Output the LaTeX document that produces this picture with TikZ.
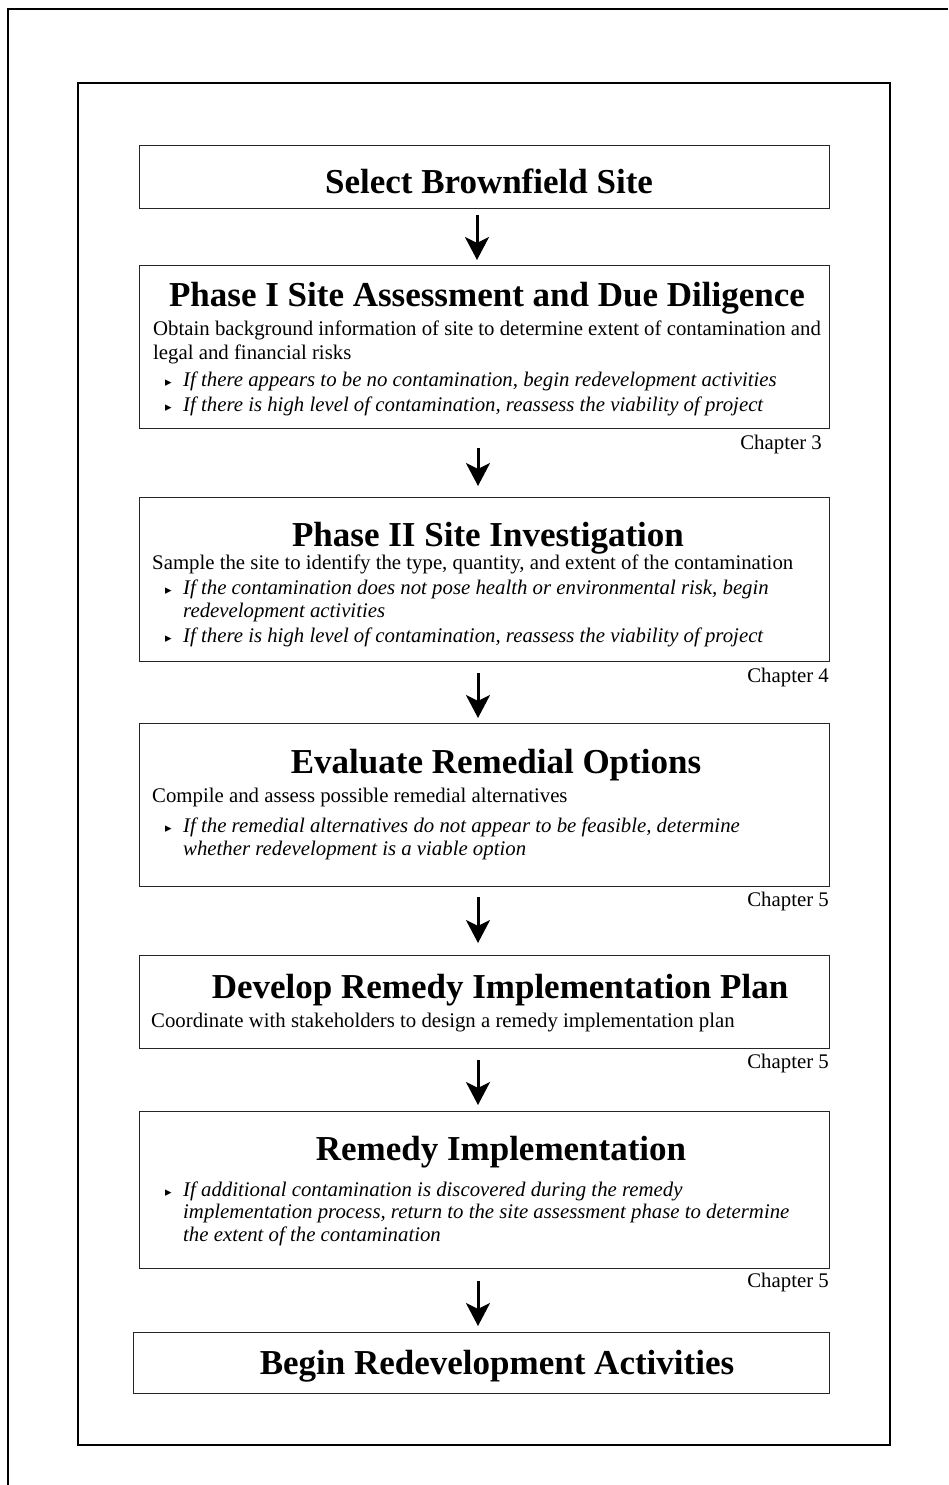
\documentclass[tikz,border=0pt]{standalone}
\usepackage{fontspec}
\setmainfont{Liberation Serif}
\newfontfamily\symfont{DejaVu Sans}
\usetikzlibrary{arrows.meta,calc}
\begin{document}
\begin{tikzpicture}[x=1pt,y=-1pt,
  box/.style={draw=black!85,line width=1pt,anchor=north west,inner sep=0pt,outer sep=0pt},
  ttl/.style={font=\fontsize{35}{40}\selectfont\bfseries,anchor=base,inner sep=0pt},
  txt/.style={font=\fontsize{20.8}{24}\selectfont,anchor=base west,inner sep=0pt},
  itx/.style={font=\fontsize{20.8}{24}\selectfont\itshape,anchor=base west,inner sep=0pt},
  bul/.style={font=\fontsize{13}{15}\symfont,anchor=base west,inner sep=0pt},
  chp/.style={font=\fontsize{20.8}{24}\selectfont,anchor=base east,inner sep=0pt},
  arr/.style={line width=3pt,-{Stealth[length=23pt,width=24pt,inset=6pt]}}]
\useasboundingbox (0,0) rectangle (948,1485);
% frames
\draw[line width=2.5pt] (8,1485) -- (8,9) -- (948,9);
\draw[line width=1.5pt] (78,83) rectangle (890,1445);
% boxes
\node[box,minimum width=690pt,minimum height=63pt] (b1) at (139,145) {};
\node[box,minimum width=690pt,minimum height=163pt] (b2) at (139,265) {};
\node[box,minimum width=690pt,minimum height=164pt] (b3) at (139,497) {};
\node[box,minimum width=690pt,minimum height=163pt] (b4) at (139,723) {};
\node[box,minimum width=690pt,minimum height=93pt] (b5) at (139,955) {};
\node[box,minimum width=690pt,minimum height=157pt] (b6) at (139,1111) {};
\node[box,minimum width=696pt,minimum height=61pt] (b7) at (133,1332) {};
% box 1
\node[ttl] (t1) at (489,193) {Select Brownfield Site};
% box 2
\node[ttl] (t2) at (487,306) {Phase I Site Assessment and Due Diligence};
\node[txt] (t2a) at (153,335) {Obtain background information of site to determine extent of contamination and};
\node[txt] (t2b) at (153,359) {legal and financial risks};
\node[bul] (u2a) at (165,386) {▸};
\node[itx] (t2c) at (183,386) {If there appears to be no contamination, begin redevelopment activities};
\node[bul] (u2b) at (165,411) {▸};
\node[itx] (t2d) at (183,411) {If there is high level of contamination, reassess the viability of project};
\node[chp] (c2) at (822,449) {Chapter 3};
% box 3
\node[ttl] (t3) at (488,546) {Phase II Site Investigation};
\node[txt] (t3a) at (152,569) {Sample the site to identify the type, quantity, and extent of the contamination};
\node[bul] (u3a) at (165,594) {▸};
\node[itx] (t3b) at (183,594) {If the contamination does not pose health or environmental risk, begin};
\node[itx] (t3c) at (183,617) {redevelopment activities};
\node[bul] (u3b) at (165,642) {▸};
\node[itx] (t3d) at (183,642) {If there is high level of contamination, reassess the viability of project};
\node[chp] (c3) at (829,682) {Chapter 4};
% box 4
\node[ttl] (t4) at (496,773) {Evaluate Remedial Options};
\node[txt] (t4a) at (152,802) {Compile and assess possible remedial alternatives};
\node[bul] (u4a) at (165,832) {▸};
\node[itx] (t4b) at (183,832) {If the remedial alternatives do not appear to be feasible, determine};
\node[itx] (t4c) at (183,855) {whether redevelopment is a viable option};
\node[chp] (c4) at (829,906) {Chapter 5};
% box 5
\node[ttl] (t5) at (500,998) {Develop Remedy Implementation Plan};
\node[txt] (t5a) at (151,1027) {Coordinate with stakeholders to design a remedy implementation plan};
\node[chp] (c5) at (829,1068) {Chapter 5};
% box 6
\node[ttl] (t6) at (501,1160) {Remedy Implementation};
\node[bul] (u6a) at (165,1196) {▸};
\node[itx] (t6a) at (183,1196) {If additional contamination is discovered during the remedy};
\node[itx] (t6b) at (183,1218) {implementation process, return to the site assessment phase to determine};
\node[itx] (t6c) at (183,1241) {the extent of the contamination};
\node[chp] (c6) at (829,1287) {Chapter 5};
% box 7
\node[ttl] (t7) at (497,1374) {Begin Redevelopment Activities};
% arrows
\draw[arr] ($(b1.south)+(-7,7)$) -- ($(b2.north)+(-7,-5)$);
\draw[arr] ($(b2.south)+(-6,20)$) -- ($(b3.north)+(-6,-11)$);
\draw[arr] ($(b3.south)+(-6,12)$) -- ($(b4.north)+(-6,-5)$);
\draw[arr] ($(b4.south)+(-6,11)$) -- ($(b5.north)+(-6,-12)$);
\draw[arr] ($(b5.south)+(-6,12)$) -- ($(b6.north)+(-6,-6)$);
\draw[arr] ($(b6.south)+(-6,13)$) -- ($(b7.north -| b6.south)+(-6,-6)$);
\end{tikzpicture}
\end{document}
